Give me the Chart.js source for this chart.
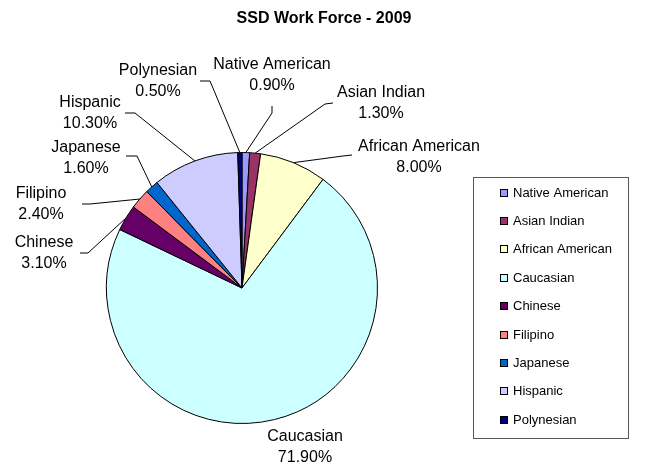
<!DOCTYPE html>
<html>
<head>
<meta charset="utf-8">
<script src="https://cdn.jsdelivr.net/npm/chart.js@4.4.1/dist/chart.umd.min.js"></script>
<style>
  html, body { margin: 0; padding: 0; background: #ffffff; }
  #wrap { width: 647px; height: 467px; }
</style>
</head>
<body>
<div id="wrap"><canvas id="c" width="647" height="467"></canvas></div>
<script>
// ---- data ----
const chartTitle = "SSD Work Force - 2009";
const categories = ["Native American", "Asian Indian", "African American", "Caucasian", "Chinese", "Filipino", "Japanese", "Hispanic", "Polynesian"];
const percentValues = [0.9, 1.3, 8.0, 71.9, 3.1, 2.4, 1.6, 10.3, 0.5];
const sliceColors = ["#9999FF", "#993366", "#FFFFCC", "#CCFFFF", "#660066", "#FF8080", "#0066CC", "#CCCCFF", "#000080"];

// ---- label placement (text positions and leader elbows, per category) ----
const labelLayout = {
  "Native American":  { x: 272, y: 65,  leader: [[272, 106], [272, 113]] },
  "Asian Indian":     { x: 381, y: 93,  leader: [[333, 103], [325, 104]] },
  "African American": { x: 419, y: 147, leader: [[352, 155], [343, 156]] },
  "Caucasian":        { x: 305, y: 437, leader: null },
  "Chinese":          { x: 44,  y: 243, leader: [[80, 253], [88, 253]] },
  "Filipino":         { x: 41,  y: 194, leader: [[82, 204], [90, 204]] },
  "Japanese":         { x: 86,  y: 148, leader: [[126, 156], [137, 156]] },
  "Hispanic":         { x: 90,  y: 103, leader: [[125, 113], [135, 113]] },
  "Polynesian":       { x: 158, y: 71,  leader: [[200, 81], [210, 81]] }
};

const FONT = '"Liberation Sans", Arial, sans-serif';

const overlayPlugin = {
  id: 'overlay',
  afterDraw(chart) {
    const ctx = chart.ctx;
    ctx.save();
    // title
    ctx.fillStyle = '#000';
    ctx.font = 'bold 16px ' + FONT;
    ctx.textAlign = 'center';
    ctx.textBaseline = 'middle';
    ctx.fillText(chartTitle, 324, 19);

    // data labels with leader lines
    const meta = chart.getDatasetMeta(0);
    meta.data.forEach((arc, i) => {
      const name = chart.data.labels[i];
      const cfg = labelLayout[name];
      if (!cfg) return;
      const p = arc.getProps(['x', 'y', 'startAngle', 'endAngle', 'outerRadius'], true);
      const mid = (p.startAngle + p.endAngle) / 2;
      const ex = p.x + Math.cos(mid) * p.outerRadius;
      const ey = p.y + Math.sin(mid) * p.outerRadius;
      if (cfg.leader) {
        ctx.strokeStyle = '#000';
        ctx.lineWidth = 1;
        ctx.beginPath();
        ctx.moveTo(cfg.leader[0][0], cfg.leader[0][1]);
        ctx.lineTo(cfg.leader[1][0], cfg.leader[1][1]);
        ctx.lineTo(ex, ey);
        ctx.stroke();
      }
      ctx.fillStyle = '#000';
      ctx.font = '16px ' + FONT;
      ctx.textAlign = 'center';
      ctx.textBaseline = 'middle';
      ctx.fillText(name, cfg.x, cfg.y);
      ctx.fillText(chart.data.datasets[0].data[i].toFixed(2) + '%', cfg.x, cfg.y + 21);
    });

    // legend box
    const lx = 473, ly = 177, lw = 155, lh = 261;
    ctx.strokeStyle = '#555';
    ctx.lineWidth = 1;
    ctx.strokeRect(lx + 0.5, ly + 0.5, lw, lh);
    const firstY = 192.5, step = 28.4;
    ctx.font = '13px ' + FONT;
    ctx.textAlign = 'left';
    ctx.textBaseline = 'middle';
    chart.data.labels.forEach((name, i) => {
      const cy = firstY + i * step;
      ctx.fillStyle = chart.data.datasets[0].backgroundColor[i];
      ctx.fillRect(500, Math.round(cy - 4), 8, 8);
      ctx.strokeStyle = '#000';
      ctx.strokeRect(500.5, Math.round(cy - 4) + 0.5, 7, 7);
      ctx.fillStyle = '#000';
      ctx.fillText(name, 513, cy + 0.5);
    });
    ctx.restore();
  }
};

new Chart(document.getElementById('c'), {
  type: 'pie',
  data: {
    labels: categories,
    datasets: [{
      data: percentValues,
      backgroundColor: sliceColors,
      borderColor: '#000',
      borderWidth: 1
    }]
  },
  options: {
    responsive: false,
    devicePixelRatio: 1,
    animation: false,
    rotation: 0,
    layout: { padding: { left: 106, right: 269, top: 152, bottom: 43 } },
    plugins: {
      legend: { display: false },
      title: { display: false },
      tooltip: { enabled: false }
    }
  },
  plugins: [overlayPlugin]
});
</script>
</body>
</html>
